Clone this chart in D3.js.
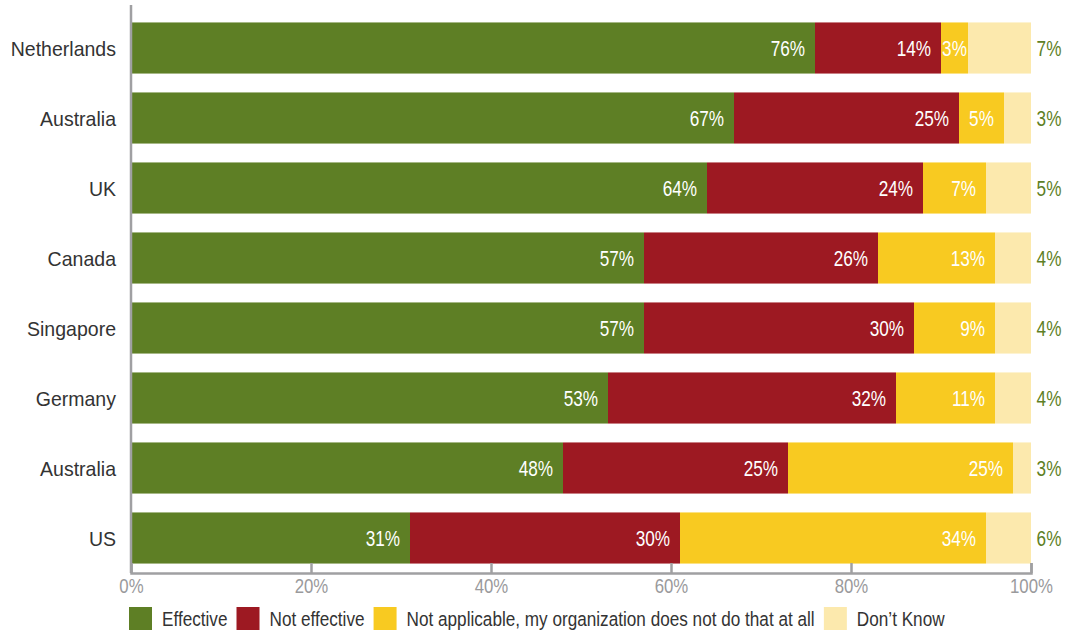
<!DOCTYPE html>
<html>
<head>
<meta charset="utf-8">
<script src="https://cdn.jsdelivr.net/npm/d3@7/dist/d3.min.js"></script>
<style>
  html, body { margin: 0; padding: 0; background: #fff; }
  svg { display: block; }
  text { font-family: "Liberation Sans", Arial, sans-serif; }
</style>
</head>
<body>
<svg id="chart" width="1066" height="634"></svg>
<script>
// Survey responses by country (percent of respondents)
const countries    = ["Netherlands", "Australia", "UK", "Canada", "Singapore", "Germany", "Australia ", "US"];
const effective    = [76, 67, 64, 57, 57, 53, 48, 31];
const notEffective = [14, 25, 24, 26, 30, 32, 25, 30];
const notApplicable= [3, 5, 7, 13, 9, 11, 25, 34];
const dontKnow     = [7, 3, 5, 4, 4, 4, 3, 6];

const seriesNames  = ["Effective", "Not effective", "Not applicable, my organization does not do that at all", "Don\u2019t Know"];
const seriesColors = ["#5e7f25", "#9d1922", "#f8ca21", "#fce9ad"];
const xTicks       = [0, 20, 40, 60, 80, 100];

const rows = countries.map((c, i) => ({
  country: c,
  s0: effective[i], s1: notEffective[i], s2: notApplicable[i], s3: dontKnow[i]
}));
const keys = ["s0", "s1", "s2", "s3"];
const stacked = d3.stack().keys(keys)(rows);

// squeeze text horizontally for a condensed typeface look; returns the new width
function condense(sel, factor) {
  let w = 0;
  sel.each(function () {
    const t = d3.select(this);
    const x0 = +(t.attr("x") || 0);
    w = this.getComputedTextLength() * factor;
    t.attr("x", x0 / factor).attr("transform", `scale(${factor},1)`);
  });
  return w;
}

const svg = d3.select("#chart");
const plotLeft = 131, plotRight = 1031, plotTop = 13, plotBottom = 573;

const x = d3.scaleLinear().domain([0, 100]).range([plotLeft, plotRight]);
const y = d3.scaleBand().domain(countries).range([plotTop, plotBottom])
  .paddingInner(0.27).paddingOuter(0.135);

svg.append("defs").append("clipPath").attr("id", "plotClip")
  .append("rect").attr("x", plotLeft).attr("y", 0)
  .attr("width", plotRight - plotLeft).attr("height", plotBottom);

// stacked bars
const layers = svg.append("g").attr("clip-path", "url(#plotClip)")
  .selectAll("g").data(stacked).join("g")
  .attr("fill", (d, i) => seriesColors[i]);

layers.selectAll("rect").data(d => d).join("rect")
  .attr("x", d => x(d[0]))
  .attr("y", d => y(d.data.country))
  .attr("width", d => Math.max(0, Math.min(x(d[1]), plotRight) - x(d[0])))
  .attr("height", y.bandwidth());

// value labels inside the first three segments
stacked.slice(0, 3).forEach((layer) => {
  const labels = svg.append("g").selectAll("text").data(layer).join("text")
    .each(function (d) {
      const x0 = x(d[0]), x1 = Math.min(x(d[1]), plotRight);
      const wide = (x1 - x0) > 45;
      d3.select(this)
        .attr("x", wide ? x1 - 10 : (x0 + x1) / 2)
        .attr("text-anchor", wide ? "end" : "middle");
    })
    .attr("y", d => y(d.data.country) + y.bandwidth() / 2)
    .attr("dy", "0.36em")
    .attr("fill", "#fff")
    .attr("font-size", 22)
    .text(d => (d[1] - d[0]) + "%");
  condense(labels, 0.78);
});

// "Don't Know" values shown beside the bars
const dkLabels = svg.append("g").selectAll("text").data(rows).join("text")
  .attr("x", plotRight + 18)
  .attr("y", d => y(d.country) + y.bandwidth() / 2)
  .attr("dy", "0.36em")
  .attr("text-anchor", "middle")
  .attr("fill", "#5e7f25")
  .attr("font-size", 22)
  .text(d => d.s3 + "%");
condense(dkLabels, 0.78);

// x axis
const xAxis = svg.append("g").attr("transform", `translate(0,${plotBottom})`)
  .call(d3.axisBottom(x).tickValues(xTicks).tickSize(-10).tickPadding(5)
    .tickFormat(d => d + "%"));
xAxis.selectAll("path, line").attr("stroke", "#a0a0a2").attr("stroke-width", 2.5);
xAxis.selectAll("text").attr("fill", "#9a9a9c").attr("font-size", 21)
  .attr("font-family", "'Liberation Sans', Arial, sans-serif");
condense(xAxis.selectAll("text"), 0.8);

// category axis
svg.append("line")
  .attr("x1", plotLeft).attr("x2", plotLeft).attr("y1", 5).attr("y2", plotBottom)
  .attr("stroke", "#a0a0a2").attr("stroke-width", 2.5);

const catLabels = svg.append("g").selectAll("text").data(countries).join("text")
  .attr("x", plotLeft - 15)
  .attr("y", d => y(d) + y.bandwidth() / 2)
  .attr("dy", "0.36em")
  .attr("text-anchor", "end")
  .attr("fill", "#333")
  .attr("font-size", 21)
  .text(d => d.trim());
condense(catLabels, 0.93);

// legend
const legend = svg.append("g").attr("transform", "translate(129,607)");
let lx = 0;
seriesNames.forEach((name, i) => {
  const g = legend.append("g").attr("transform", `translate(${lx},0)`);
  g.append("rect").attr("width", 23).attr("height", 23).attr("fill", seriesColors[i]);
  const t = g.append("text").attr("x", 33).attr("y", 12).attr("dy", "0.36em")
    .attr("fill", "#333").attr("font-size", 19.5).text(name);
  const w = condense(t, 0.88);
  lx += 33 + w + 9;
});
</script>
</body>
</html>
